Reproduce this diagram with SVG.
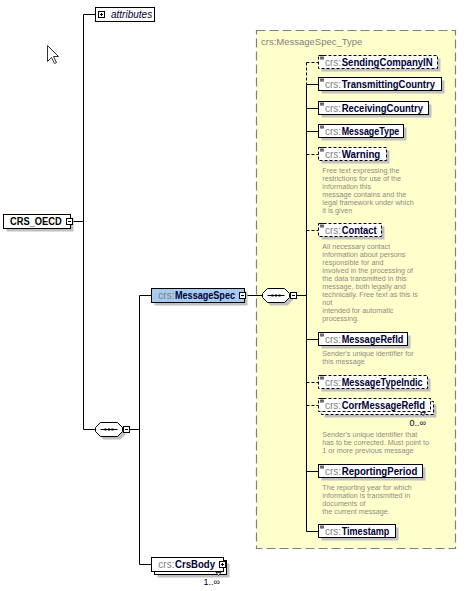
<svg xmlns="http://www.w3.org/2000/svg" xmlns:xlink="http://www.w3.org/1999/xlink" width="471" height="591" viewBox="0 0 471 591">
<style>
.lbl{font-family:"Liberation Sans",Arial,sans-serif;font-size:10px}
.pfx{font-family:"Liberation Sans",Arial,sans-serif;font-size:10px;fill:#808080}
.nm{font-family:"Liberation Sans",Arial,sans-serif;font-size:10px;font-weight:bold;fill:#000033}
.box{fill:#fff;stroke:#000;stroke-width:1}
.dbox{fill:#fff;stroke:#000;stroke-width:1;stroke-dasharray:3,2}
.shd{fill:#c0c0c0}
.desc{font-family:"Liberation Sans",Arial,sans-serif;font-size:7.2px;fill:#8c8c84}
.ln{stroke:#000;stroke-width:1;fill:none}
.dl{stroke:#000;stroke-width:1;fill:none;stroke-dasharray:3,2}
.card{font-family:"Liberation Sans",Arial,sans-serif;font-size:9px;fill:#000033}
</style>
<defs>
<g id="minus"><rect x="0.5" y="0.5" width="6" height="6" fill="#fff" stroke="#000"/><path d="M2,3.5h3" stroke="#000"/></g>
<g id="plus"><rect x="0.5" y="0.5" width="6" height="6" fill="#fff" stroke="#000"/><path d="M2,3.5h3M3.5,2v3" stroke="#000"/></g>
<path id="eq" d="M0,0.5h4M0,2.2h4M0,3.9h4" stroke="#000" stroke-width="0.9"/>
<g id="seqin"><path d="M5,7h17" stroke="#000"/><rect x="9" y="6" width="2" height="2"/><rect x="12.5" y="6" width="2" height="2"/><rect x="16" y="6" width="2" height="2"/></g>
</defs>

<g id="cursor"><polygon points="47.5,45.5 47.5,61.5 51.5,57.5 54.5,63.5 56.5,62.5 53.5,56.5 58.5,56.5" fill="#fff" stroke="#333" stroke-width="1"/></g>

<g id="typebox">
<rect x="256.5" y="30.5" width="199" height="518" fill="#ffffcc" stroke="#808080" stroke-width="1.2" stroke-dasharray="9,4"/>
<text x="261" y="44.5" style="font-family:'Liberation Sans',Arial,sans-serif;font-size:9.5px;fill:#808080">crs:MessageSpec_Type</text>
</g>

<g id="connectors">
<path class="ln" d="M83.5,14.5H95.5M83.5,14.5V429.5H95.5M72.5,221.5H83.5"/>
<path class="ln" d="M129.5,429.5H139.5M139.5,295.5V564.5M139.5,295.5H151.5M139.5,564.5H151.5"/>
<path class="ln" d="M245.5,295.5H262.5M296.5,295.5H306.5"/>
<path class="dl" d="M306.5,62.5V84.5"/>
<path class="ln" d="M306.5,84.5V531.5"/>
<path class="dl" d="M306.5,62.5H318.5M306.5,154.5H318.5M306.5,230.5H318.5M306.5,382.5H318.5M306.5,405.5H318.5"/>
<path class="ln" d="M306.5,84.5H318.5M306.5,108.5H318.5M306.5,131.5H318.5M306.5,339.5H318.5M306.5,471.5H318.5M306.5,531.5H318.5"/>
</g>

<g id="attributes">
<rect class="box" x="95.5" y="7.5" width="59" height="14"/>
<use xlink:href="#plus" x="98" y="11"/>
<text class="lbl" x="111" y="17.8" style="font-style:italic;fill:#000033">attributes</text>
</g>

<g id="CRS_OECD">
<rect class="shd" x="6.5" y="217.5" width="67" height="14"/>
<rect class="box" x="3.5" y="214.5" width="67" height="14"/>
<text class="nm" x="10" y="225" fill="#000" style="fill:#000" textLength="51.7" lengthAdjust="spacingAndGlyphs">CRS_OECD</text>
<use xlink:href="#minus" x="66" y="218"/>
</g>

<g id="seq1">
<path class="shd" d="M103.5,425.5H120.5L125.5,430.5V434.5L120.5,439.5H103.5L98.5,434.5V430.5Z"/>
<path d="M100.5,422.5H117.5L122.5,427.5V431.5L117.5,436.5H100.5L95.5,431.5V427.5Z" fill="#fff" stroke="#000"/>
<use xlink:href="#seqin" x="95.5" y="422.5"/>
<use xlink:href="#minus" x="123" y="426"/>
</g>

<g id="MessageSpec">
<rect class="shd" x="154.5" y="291.5" width="93" height="14"/>
<rect x="151.5" y="288.5" width="93" height="14" fill="#a6caf0" stroke="#000"/>
<text class="pfx" x="158.3" y="299">crs:</text>
<text class="nm" x="175" y="299" textLength="60" lengthAdjust="spacingAndGlyphs">MessageSpec</text>
<use xlink:href="#minus" x="239" y="292"/>
</g>

<g id="seq2">
<path class="shd" d="M270.5,291.5H287.5L292.5,296.5V300.5L287.5,305.5H270.5L265.5,300.5V296.5Z"/>
<path d="M267.5,288.5H284.5L289.5,293.5V297.5L284.5,302.5H267.5L262.5,297.5V293.5Z" fill="#fff" stroke="#000"/>
<use xlink:href="#seqin" x="262.5" y="288.5"/>
<use xlink:href="#minus" x="290" y="292"/>
</g>

<g id="CrsBody">
<rect class="shd" x="157.5" y="563.5" width="72" height="14"/>
<rect class="box" x="154.5" y="560.5" width="72" height="14"/>
<rect class="box" x="151.5" y="557.5" width="72" height="14"/>
<text class="pfx" x="158.3" y="568">crs:</text>
<text class="nm" x="175" y="568" textLength="40" lengthAdjust="spacingAndGlyphs">CrsBody</text>
<use xlink:href="#plus" x="219" y="561"/>
<path d="M216,572.5h5l-2.5,3z" fill="#fff" stroke="#000" stroke-width="0.8"/>
<text class="card" x="220" y="584.5" text-anchor="end">1..∞</text>
</g>

<g id="SendingCompanyIN">
<rect class="shd" x="321.5" y="58.5" width="119" height="13"/>
<rect class="dbox" x="318.5" y="55.5" width="119" height="13"/>
<use xlink:href="#eq" x="320" y="55"/>
<text class="pfx" x="325" y="65.5">crs:</text>
<text class="nm" x="341.7" y="65.5" textLength="91" lengthAdjust="spacingAndGlyphs">SendingCompanyIN</text>
</g>

<g id="TransmittingCountry">
<rect class="shd" x="321.5" y="80.5" width="123" height="13"/>
<rect class="box" x="318.5" y="77.5" width="123" height="13"/>
<use xlink:href="#eq" x="320" y="77"/>
<text class="pfx" x="325" y="87.5">crs:</text>
<text class="nm" x="341.7" y="87.5" textLength="93.3" lengthAdjust="spacingAndGlyphs">TransmittingCountry</text>
</g>

<g id="ReceivingCountry">
<rect class="shd" x="321.5" y="104.5" width="110" height="13"/>
<rect class="box" x="318.5" y="101.5" width="110" height="13"/>
<use xlink:href="#eq" x="320" y="101"/>
<text class="pfx" x="325" y="111.5">crs:</text>
<text class="nm" x="341.7" y="111.5" textLength="81.3" lengthAdjust="spacingAndGlyphs">ReceivingCountry</text>
</g>

<g id="MessageType">
<rect class="shd" x="321.5" y="127.5" width="85" height="13"/>
<rect class="box" x="318.5" y="124.5" width="85" height="13"/>
<use xlink:href="#eq" x="320" y="124"/>
<text class="pfx" x="325" y="134.5">crs:</text>
<text class="nm" x="341.7" y="134.5" textLength="57.6" lengthAdjust="spacingAndGlyphs">MessageType</text>
</g>

<g id="Warning">
<rect class="shd" x="321.5" y="150.5" width="68" height="13"/>
<rect class="dbox" x="318.5" y="147.5" width="68" height="13"/>
<use xlink:href="#eq" x="320" y="147"/>
<text class="pfx" x="325" y="157.5">crs:</text>
<text class="nm" x="341.7" y="157.5" textLength="38.6" lengthAdjust="spacingAndGlyphs">Warning</text>
<text class="desc"><tspan x="322.3" y="172.7">Free text expressing the</tspan><tspan x="322.3" y="180.7">restrictions for use of the</tspan><tspan x="322.3" y="188.7">information this</tspan><tspan x="322.3" y="196.7">message contains and the</tspan><tspan x="322.3" y="204.7">legal framework under which</tspan><tspan x="322.3" y="212.7">it is given</tspan></text>
</g>

<g id="Contact">
<rect class="shd" x="321.5" y="226.5" width="63" height="13"/>
<rect class="dbox" x="318.5" y="223.5" width="63" height="13"/>
<use xlink:href="#eq" x="320" y="223"/>
<text class="pfx" x="325" y="233.5">crs:</text>
<text class="nm" x="341.7" y="233.5" textLength="35" lengthAdjust="spacingAndGlyphs">Contact</text>
<text class="desc"><tspan x="322.3" y="248.7">All necessary contact</tspan><tspan x="322.3" y="256.7">information about persons</tspan><tspan x="322.3" y="264.7">responsible for and</tspan><tspan x="322.3" y="272.7">involved in the processing of</tspan><tspan x="322.3" y="280.7">the data transmitted in this</tspan><tspan x="322.3" y="288.7">message, both legally and</tspan><tspan x="322.3" y="296.7">technically. Free text as this is</tspan><tspan x="322.3" y="304.7">not</tspan><tspan x="322.3" y="312.7">intended for automatic</tspan><tspan x="322.3" y="320.7">processing.</tspan></text>
</g>

<g id="MessageRefId">
<rect class="shd" x="321.5" y="335.5" width="89" height="13"/>
<rect class="box" x="318.5" y="332.5" width="89" height="13"/>
<use xlink:href="#eq" x="320" y="332"/>
<text class="pfx" x="325" y="342.5">crs:</text>
<text class="nm" x="341.7" y="342.5" textLength="61.6" lengthAdjust="spacingAndGlyphs">MessageRefId</text>
<text class="desc"><tspan x="322.3" y="356.3">Sender's unique identifier for</tspan><tspan x="322.3" y="364.3">this message</tspan></text>
</g>

<g id="MessageTypeIndic">
<rect class="shd" x="321.5" y="378.5" width="109" height="13"/>
<rect class="dbox" x="318.5" y="375.5" width="109" height="13"/>
<use xlink:href="#eq" x="320" y="375"/>
<text class="pfx" x="325" y="385.5">crs:</text>
<text class="nm" x="341.7" y="385.5" textLength="81" lengthAdjust="spacingAndGlyphs">MessageTypeIndic</text>
</g>

<g id="CorrMessageRefId">
<rect class="shd" x="324.5" y="404.5" width="112" height="13"/>
<rect class="dbox" x="321.5" y="401.5" width="112" height="13"/>
<rect class="dbox" x="318.5" y="398.5" width="112" height="13"/>
<use xlink:href="#eq" x="320" y="398"/>
<text class="pfx" x="325" y="408.5">crs:</text>
<text class="nm" x="341.7" y="408.5" textLength="83.3" lengthAdjust="spacingAndGlyphs">CorrMessageRefId</text>
<path d="M420.5,412.5h5l-2.5,3z" fill="#fff" stroke="#000" stroke-width="0.8"/>
<text class="card" x="426" y="425.5" text-anchor="end">0..∞</text>
<text class="desc"><tspan x="322.3" y="437">Sender's unique identifier that</tspan><tspan x="322.3" y="445">has to be corrected.  Must point to</tspan><tspan x="322.3" y="453">1 or more previous message</tspan></text>
</g>

<g id="ReportingPeriod">
<rect class="shd" x="321.5" y="467.5" width="104" height="13"/>
<rect class="box" x="318.5" y="464.5" width="104" height="13"/>
<use xlink:href="#eq" x="320" y="464"/>
<text class="pfx" x="325" y="474.5">crs:</text>
<text class="nm" x="341.7" y="474.5" textLength="75.6" lengthAdjust="spacingAndGlyphs">ReportingPeriod</text>
<text class="desc"><tspan x="322.3" y="489.7">The reporting year for which</tspan><tspan x="322.3" y="497.7">information is transmitted in</tspan><tspan x="322.3" y="505.7">documents of</tspan><tspan x="322.3" y="513.7">the current message.</tspan></text>
</g>

<g id="Timestamp">
<rect class="shd" x="321.5" y="527.5" width="77" height="13"/>
<rect class="box" x="318.5" y="524.5" width="77" height="13"/>
<use xlink:href="#eq" x="320" y="524"/>
<text class="pfx" x="325" y="534.5">crs:</text>
<text class="nm" x="341.7" y="534.5" textLength="47.6" lengthAdjust="spacingAndGlyphs">Timestamp</text>
</g>
</svg>
